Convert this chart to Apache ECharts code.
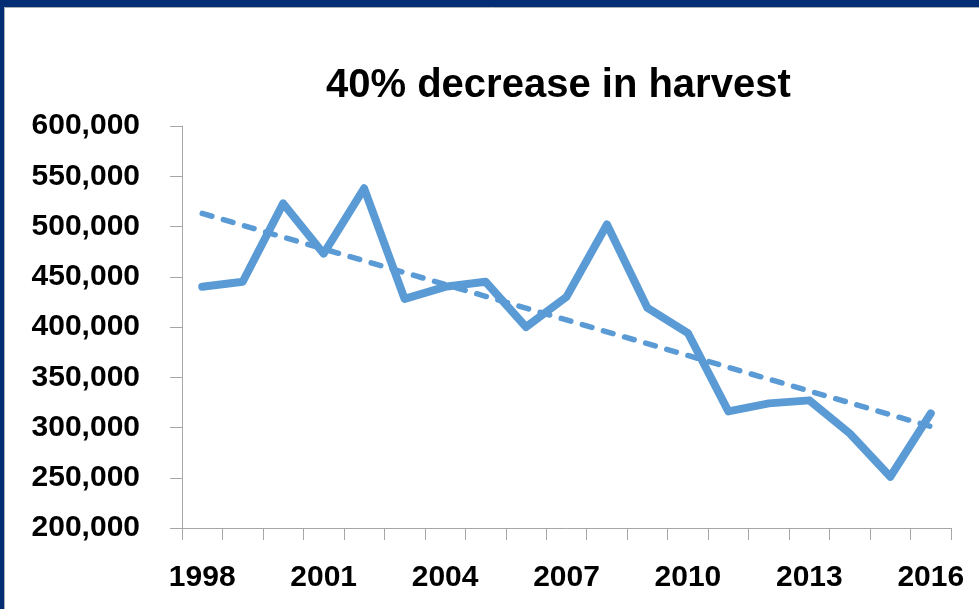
<!DOCTYPE html>
<html>
<head>
<meta charset="utf-8">
<script src="https://cdn.jsdelivr.net/npm/echarts@6/dist/echarts.min.js"></script>
<style>
  html, body { margin: 0; padding: 0; background: #fff; }
  #main { width: 979px; height: 609px; }
</style>
</head>
<body>
<div id="main"></div>
<script>
var years = ['1998', '1999', '2000', '2001', '2002', '2003', '2004', '2005', '2006', '2007',
             '2008', '2009', '2010', '2011', '2012', '2013', '2014', '2015', '2016'];
var harvest = [440000, 445000, 523000, 473000, 538000, 428000, 440000, 445000, 400000, 430000,
               502000, 419000, 394000, 316000, 324000, 327000, 294000, 251000, 314000];
// trend line: start and end only
var trend = [513000, null, null, null, null, null, null, null, null, null,
             null, null, null, null, null, null, null, null, 301000];
var yTicks = {min: 200000, max: 600000, step: 50000};

var myChart = echarts.init(document.getElementById('main'));
var lblFont = '"Liberation Sans", Arial, sans-serif';
option = {
    backgroundColor: '#ffffff',
    animation: false,
    title: {
        text: '40% decrease in harvest',
        left: 321,
        top: 61,
        textStyle: {
            fontFamily: lblFont,
            fontWeight: 'bold',
            fontSize: 40,
            color: '#000'
        }
    },
    graphic: [
        {type: 'rect', shape: {x: 0, y: 0, width: 979, height: 7}, style: {fill: '#022d74'}},
        {type: 'rect', shape: {x: 0, y: 0, width: 4, height: 609}, style: {fill: '#022d74'}},
        {type: 'line', shape: {x1: 4, y1: 7.5, x2: 979, y2: 7.5}, style: {stroke: '#a9b0b8', lineWidth: 1}},
        {type: 'line', shape: {x1: 4.5, y1: 7, x2: 4.5, y2: 609}, style: {stroke: '#a9b0b8', lineWidth: 1}}
    ],
    grid: {
        left: 182,
        right: 28,
        top: 126,
        bottom: 81
    },
    xAxis: {
        type: 'category',
        data: years,
        boundaryGap: true,
        axisLine: {lineStyle: {color: '#a6a6a6', width: 1}},
        axisTick: {show: true, interval: 0, length: 12, lineStyle: {color: '#a6a6a6'}},
        axisLabel: {
            interval: 2,
            margin: 35,
            fontFamily: lblFont,
            fontWeight: 'bold',
            fontSize: 30,
            color: '#000'
        },
        splitLine: {show: false}
    },
    yAxis: {
        type: 'value',
        min: yTicks.min,
        max: yTicks.max,
        interval: yTicks.step,
        axisLine: {show: true, lineStyle: {color: '#a6a6a6', width: 1}},
        axisTick: {show: true, length: 12, lineStyle: {color: '#a6a6a6'}},
        axisLabel: {
            margin: 42,
            fontFamily: lblFont,
            fontWeight: 'bold',
            fontSize: 30,
            color: '#000',
            formatter: function (v) {
                return v.toLocaleString('en-US');
            }
        },
        splitLine: {show: false}
    },
    series: [
        {
            name: 'Harvest',
            type: 'line',
            data: harvest,
            symbol: 'none',
            lineStyle: {color: '#5b9bd5', width: 8, cap: 'round', join: 'round'},
            z: 3
        },
        {
            name: 'Trend',
            type: 'line',
            data: trend,
            connectNulls: true,
            symbol: 'none',
            lineStyle: {color: '#5b9bd5', width: 5.5, type: [10, 12], cap: 'round'},
            z: 2
        }
    ]
};
myChart.setOption(option);
</script>
</body>
</html>
